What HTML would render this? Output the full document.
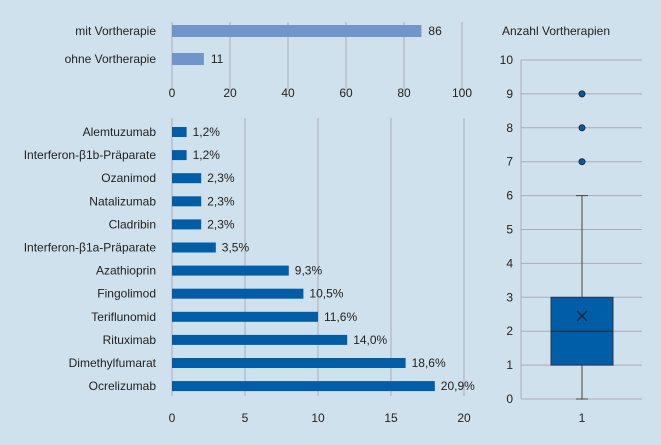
<!DOCTYPE html>
<html><head><meta charset="utf-8"><style>
body{margin:0;background:#cfe1ec;}
svg{display:block;font-family:"Liberation Sans",sans-serif;}
text{fill:#222;font-size:12px;}
</style></head><body>
<svg id="c" width="661" height="445"></svg>
<script>
const topCats=["mit Vortherapie","ohne Vortherapie"];
const topVals=[86,11];
const topTicks=[0,20,40,60,80,100];
const drugCats=["Alemtuzumab","Interferon-β1b-Präparate","Ozanimod","Natalizumab","Cladribin","Interferon-β1a-Präparate","Azathioprin","Fingolimod","Teriflunomid","Rituximab","Dimethylfumarat","Ocrelizumab"];
const drugCounts=[1,1,2,2,2,3,8,9,10,12,16,18];
const drugPct=[1.2,1.2,2.3,2.3,2.3,3.5,9.3,10.5,11.6,14.0,18.6,20.9];
const drugTicks=[0,5,10,15,20];
const boxStats=[0,1,2,3,6];
const boxMean=[2.45];
const boxOutliers=[7,8,9];
const boxTicks=[0,1,2,3,4,5,6,7,8,9,10];
const S=document.getElementById('c');const NS="http://www.w3.org/2000/svg";
function el(t,a,txt){const e=document.createElementNS(NS,t);for(const k in a)e.setAttribute(k,a[k]);if(txt!==undefined)e.textContent=txt;S.appendChild(e);return e;}
// top
const xt=v=>172+v*2.9;
topTicks.forEach(t=>{let l=el('line',{x1:xt(t),x2:xt(t),y1:22,y2:90,stroke:'#aab',"stroke-width":1});

let tx=el('text',{x:xt(t),y:97,'text-anchor':'middle'},t);
});
topCats.forEach((c,i)=>{const y=31+i*28;
let r=el('rect',{x:xt(0),y:y-6,width:xt(topVals[i])-xt(0),height:12,fill:'#6f95cb'});

let l=el('text',{x:156,y:y+4,'text-anchor':'end'},c);

let v=el('text',{x:xt(topVals[i])+7,y:y+4},topVals[i]);
});
// bottom
const xb=v=>172+v*14.6;
drugTicks.forEach(t=>{let l=el('line',{x1:xb(t),x2:xb(t),y1:118,y2:396,stroke:'#aab',"stroke-width":1});

let tx=el('text',{x:xb(t),y:422,'text-anchor':'middle'},t);
});
drugCats.forEach((c,i)=>{const y=132+i*23.1;
let r=el('rect',{x:xb(0),y:y-5,width:xb(drugCounts[i])-xb(0),height:10,fill:'#005ea8'});

let l=el('text',{x:156,y:y+4,'text-anchor':'end'},c);

let v=el('text',{x:xb(drugCounts[i])+6,y:y+4},drugPct[i].toFixed(1).replace('.',',')+'%');
});
// box
const yb=v=>399-v*33.9;
let ttl=el('text',{x:556,y:35,'text-anchor':'middle'},'Anzahl Vortherapien');

boxTicks.forEach(t=>{let l=el('line',{x1:521,x2:642,y1:yb(t),y2:yb(t),stroke:'#aab'});

let tx=el('text',{x:513,y:yb(t)+4,'text-anchor':'end'},t);
});
let ax=el('line',{x1:521,x2:521,y1:yb(10),y2:yb(0),stroke:'#aab'});

const cx=582;
let w=el('line',{x1:cx,x2:cx,y1:yb(boxStats[0]),y2:yb(boxStats[4]),stroke:'#444'});

[boxStats[0],boxStats[4]].forEach(v=>{let c=el('line',{x1:cx-6,x2:cx+6,y1:yb(v),y2:yb(v),stroke:'#444'});
});
let bx=el('rect',{x:551,y:yb(boxStats[3]),width:62,height:yb(boxStats[1])-yb(boxStats[3]),fill:'#005ea8',stroke:'#334'});

let md=el('line',{x1:551,x2:613,y1:yb(boxStats[2]),y2:yb(boxStats[2]),stroke:'#223'});

const my=yb(boxMean[0]);
let mn=el('path',{d:`M${cx-5},${my-5}L${cx+5},${my+5}M${cx+5},${my-5}L${cx-5},${my+5}`,stroke:'#223','stroke-width':1.3});

boxOutliers.forEach(o=>{let c=el('circle',{cx:cx,cy:yb(o),r:3,fill:'#005ea8',stroke:'#223'});
});
let xl=el('text',{x:cx,y:422,'text-anchor':'middle'},'1');

</script></body></html>
